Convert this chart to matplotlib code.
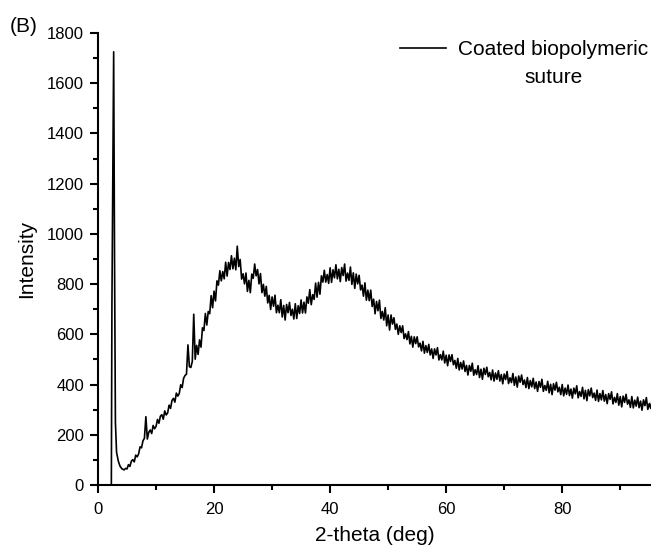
import numpy as np
import matplotlib
matplotlib.use("Agg")
import matplotlib.pyplot as plt
from matplotlib.ticker import MultipleLocator

plt.rcParams['font.family'] = ['Liberation Sans', 'DejaVu Sans']

# sharp low-angle peak
peak_x = [2.3, 2.4, 2.7, 2.85, 3.0, 3.2, 3.5, 3.8, 4.1]
peak_y = [0, 720, 1725, 900, 250, 130, 95, 75, 65]

# rest of the scan: one reading every 0.25 deg from 4.5 deg on
scan_start = 4.5
scan_step = 0.25
scan_y = [
    60, 66,
    64, 81, 74, 95,          # 5
    101, 92, 119, 112,
    124, 152, 148, 176,
    186, 272, 183, 210,
    219, 205, 237, 224,
    233, 261, 246, 274,      # 10
    280, 262, 295, 279,
    287, 318, 305, 337,
    345, 330, 366, 354,
    364, 399, 388, 425,
    436, 442, 558, 471,      # 15
    468, 492, 680, 501,
    556, 520, 578, 549,
    626, 615, 683, 637,
    691, 682, 754, 706,
    772, 733, 813, 796,      # 20
    853, 813, 850, 821,
    887, 832, 886, 858,
    913, 861, 903, 857,
    951, 870, 898, 820,
    841, 801, 844, 771,      # 25
    815, 766, 840, 823,
    880, 833, 858, 801,
    842, 766, 799, 752,
    791, 725, 755, 699,
    749, 712, 756, 686,      # 30
    716, 686, 738, 669,
    715, 657, 719, 686,
    727, 675, 700, 661,
    722, 663, 714, 683,
    737, 685, 728, 685,      # 35
    749, 724, 778, 718,
    758, 739, 804, 748,
    807, 760, 833, 808,
    855, 808, 838, 803,
    865, 807, 857, 825,      # 40
    877, 821, 859, 810,
    866, 834, 880, 812,
    844, 815, 868, 799,
    845, 783, 840, 801,
    835, 777, 796, 752,      # 45
    805, 736, 776, 734,
    776, 711, 740, 682,
    731, 694, 736, 663,
    691, 657, 706, 634,
    677, 617, 677, 641,      # 50
    666, 620, 641, 600,
    634, 607, 634, 583,
    602, 579, 611, 562,
    592, 549, 590, 563,
    590, 550, 565, 534,      # 55
    572, 525, 555, 528,
    560, 518, 542, 504,
    542, 518, 547, 498,
    519, 498, 533, 486,
    517, 475, 518, 492,      # 60
    519, 479, 496, 465,
    504, 458, 488, 462,
    494, 452, 476, 438,
    476, 453, 485, 437,
    459, 440, 475, 428,      # 65
    461, 421, 465, 440,
    469, 431, 448, 419,
    458, 414, 446, 421,
    455, 414, 440, 403,
    442, 420, 452, 404,      # 70
    427, 408, 444, 397,
    430, 390, 434, 409,
    438, 400, 418, 388,
    428, 384, 416, 391,
    425, 384, 410, 373,      # 75
    412, 389, 421, 373,
    396, 377, 413, 367,
    401, 360, 403, 378,
    409, 371, 389, 360,
    400, 355, 386, 361,      # 80
    398, 356, 382, 346,
    386, 363, 395, 347,
    372, 353, 389, 343,
    377, 336, 380, 355,
    386, 348, 366, 337,      # 85
    378, 333, 364, 339,
    376, 334, 360, 324,
    364, 341, 371, 323,
    349, 329, 364, 318,
    352, 311, 354, 329,      # 90
    361, 322, 339, 309,
    352, 307, 338, 314,
    350, 308, 334, 298,
    339, 316, 348, 301,
    324, 305, 341, 295,      # 95
    330,
]

scan_x = scan_start + scan_step * np.arange(len(scan_y))
x = np.concatenate([peak_x, scan_x])
y = np.concatenate([peak_y, scan_y])

fig = plt.figure(figsize=(6.51, 5.49), dpi=100)
ax = fig.add_axes([98/651, 64/549, 553/651, 452/549])

ax.plot(x, y, color='black', lw=1.2, label='Coated biopolymeric')

ax.set_xlim(0, 95.3)
ax.set_ylim(0, 1800)
ax.xaxis.set_major_locator(MultipleLocator(20))
ax.xaxis.set_minor_locator(MultipleLocator(10))
ax.yaxis.set_major_locator(MultipleLocator(200))
ax.yaxis.set_minor_locator(MultipleLocator(100))

for s in ['top', 'right']:
    ax.spines[s].set_visible(False)
for s in ['left', 'bottom']:
    ax.spines[s].set_linewidth(1.5)
ax.tick_params(which='major', length=6, width=1.5, labelsize=12, pad=4)
ax.tick_params(axis='x', which='major', pad=6)
ax.tick_params(which='minor', length=3.5, width=1.5)

ax.set_xlabel('2-theta (deg)', fontsize=15, labelpad=7)
ax.set_ylabel('Intensity', fontsize=15, labelpad=8)

leg = ax.legend(loc='upper left', bbox_to_anchor=((400 - 98) / 553, (485 - 40) / 452),
                frameon=False, fontsize=15, handlelength=2.2, handletextpad=0.6,
                borderaxespad=0, borderpad=0)

# second line of the legend label, centred under the first
fig.canvas.draw()
bb = leg.get_texts()[0].get_window_extent()
fig.text((bb.x0 + bb.x1) / 2 / 651, (549 - 83) / 549, 'suture',
         fontsize=15, ha='center', va='baseline')

fig.text(0.015, 0.951, '(B)', fontsize=15, ha='left', va='center')

plt.savefig('out.png', dpi=100)
